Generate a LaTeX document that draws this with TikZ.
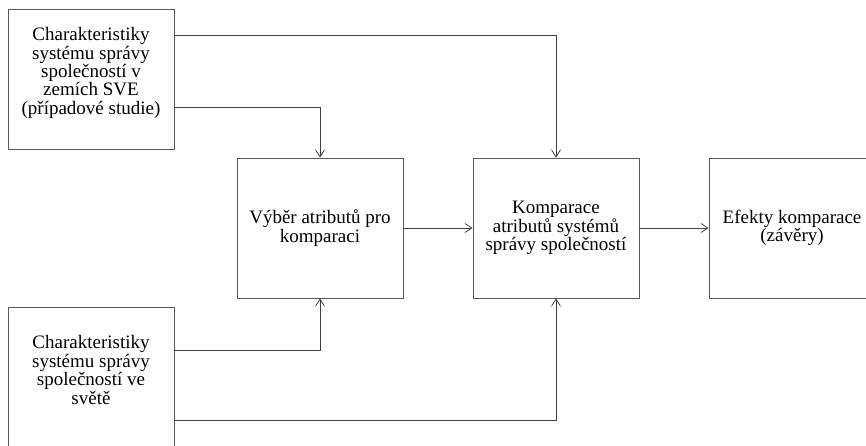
\documentclass[tikz,border=0pt]{standalone}
\usepackage{fontspec}
\setmainfont{Liberation Serif}
\usetikzlibrary{arrows.meta, positioning}

\begin{document}
\begin{tikzpicture}
      [
        x=1pt, y=-1pt,
        txt/.style={align=center, font=\fontsize{19}{18.4}\selectfont},
        box/.style={txt, draw=black!65, line width=0.8pt, minimum width=166pt,
          minimum height=140pt, inner sep=0pt},
        boxtext/.style={txt, yshift=6pt},
        link/.style={draw=black!75, line width=0.8pt, ->},
        >={Straight Barb[length=7pt,width=9pt]}
      ]
      \useasboundingbox (0,0) rectangle (866,445);
      % source boxes
      \node [box, label={[boxtext]center:{Charakteristiky\\systému správy\\společností v\\zemích SVE\\(případové studie)}}] (cee) at (91,79) {};
      \node [box, label={[boxtext, yshift=1pt]center:{Charakteristiky\\systému správy\\společností ve\\světě}}] (svet) at (91,377) {};
      % process boxes
      \node [box] (vyber) at (320,228) {Výběr atributů pro\\komparaci};
      \node [box] (komp) at (556,228) {Komparace\\atributů systémů\\správy společností};
      \node [box] (efekt) at (792,228) {Efekty komparace\\(závěry)};
      % connectors
      \draw [link] ([yshift=-27pt]cee.north east) -| (komp.north);
      \draw [link] ([yshift=42pt]cee.south east) -| (vyber.north);
      \draw [link] ([yshift=-44pt]svet.north east) -| (vyber.south);
      \draw [link] ([yshift=-114pt]svet.north east) -| (komp.south);
      \draw [link] (vyber) -- (komp);
      \draw [link] (komp) -- (efekt);
\end{tikzpicture}
\end{document}
